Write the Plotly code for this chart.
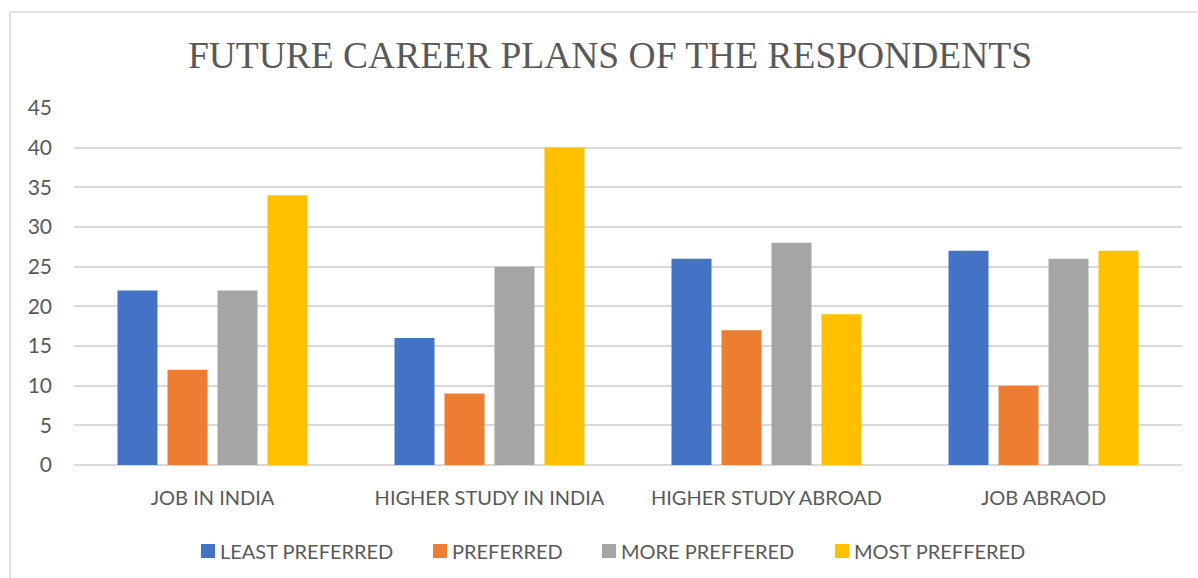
import plotly.graph_objects as go

categories = ["JOB IN INDIA", "HIGHER STUDY IN INDIA", "HIGHER STUDY ABROAD", "JOB ABRAOD"]
series_names = ["LEAST PREFERRED", "PREFERRED", "MORE PREFFERED", "MOST PREFFERED"]
least_preferred = [22, 16, 26, 27]
preferred = [12, 9, 17, 10]
more_preffered = [22, 25, 28, 26]
most_preffered = [34, 40, 19, 27]
y_ticks = [0, 5, 10, 15, 20, 25, 30, 35, 40, 45]

series_values = [least_preferred, preferred, more_preffered, most_preffered]
colors = ["#4472C4", "#ED7D31", "#A5A5A5", "#FFC000"]

W, H = 1198, 578
ML, MR, MT, MB = 74, 16, 108, 113
plot_w = W - ML - MR
plot_h = H - MT - MB

text_color = "#595959"
grid_color = "#D9D9D9"
font_family = "Lato, 'Open Sans', sans-serif"


def px_x(px):
    return (px - ML) / plot_w


def px_y(py):
    return (H - MB - py) / plot_h


fig = go.Figure()
for name, vals, col in zip(series_names, series_values, colors):
    fig.add_trace(go.Bar(
        name=name, x=categories, y=vals,
        marker=dict(color=col, line=dict(width=0)),
        showlegend=False,
    ))

# outer chart frame (left and top edges visible)
fig.add_shape(
    type="rect", xref="paper", yref="paper",
    x0=px_x(10), x1=1.2, y0=-0.6, y1=px_y(12),
    line=dict(color=grid_color, width=1.5), fillcolor="rgba(0,0,0,0)",
    layer="below",
)

# legend row below the axis: coloured key square followed by the series name
legend_left = [201, 433, 602, 835]
legend_mid = 551
key_size = 14
for name, col, left in zip(series_names, colors, legend_left):
    fig.add_shape(
        type="rect", xref="paper", yref="paper",
        x0=px_x(left), x1=px_x(left + key_size),
        y0=px_y(legend_mid + key_size / 2), y1=px_y(legend_mid - key_size / 2),
        line=dict(width=0), fillcolor=col,
    )
    fig.add_annotation(
        text=name, xref="paper", yref="paper",
        x=px_x(left + key_size + 3), y=px_y(legend_mid),
        xanchor="left", yanchor="middle", showarrow=False,
        font=dict(family=font_family, size=20, color=text_color),
    )

fig.update_layout(
    width=W, height=H,
    margin=dict(l=ML, r=MR, t=MT, b=MB),
    paper_bgcolor="white", plot_bgcolor="white",
    barmode="group", bargap=0.278, bargroupgap=0.2,
    title=dict(
        text="FUTURE CAREER PLANS OF THE RESPONDENTS",
        font=dict(family="'Liberation Serif', 'Times New Roman', serif", size=37.5, color=text_color),
        x=610 / W, xanchor="center", xref="container",
        y=1 - 55 / H, yanchor="middle", yref="container",
    ),
    font=dict(family=font_family, size=20, color=text_color),
    showlegend=False,
    xaxis=dict(
        showgrid=False, showline=False, ticks="", zeroline=False,
        tickfont=dict(family=font_family, size=20, color=text_color),
        ticklabelstandoff=19,
    ),
    yaxis=dict(
        range=[0, 45], tickvals=y_ticks, showgrid=True, gridcolor=grid_color, gridwidth=1.5,
        zeroline=True, zerolinecolor=grid_color, zerolinewidth=1.5,
        showline=False, ticks="",
        tickfont=dict(family=font_family, size=21, color=text_color),
        ticklabelstandoff=21,
    ),
)

fig.write_html("out.html")
